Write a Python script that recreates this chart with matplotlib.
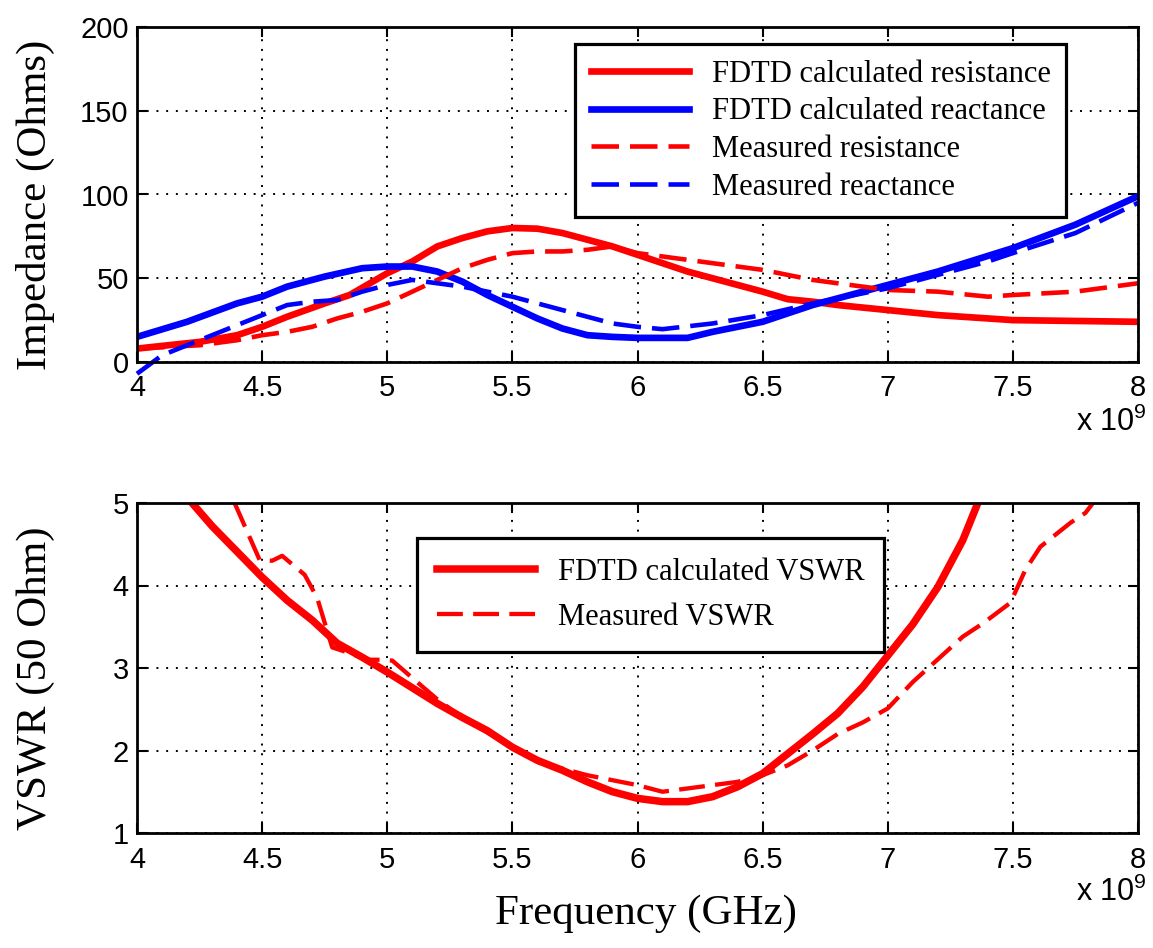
import matplotlib
matplotlib.use("Agg")
import matplotlib.pyplot as plt

plt.rcParams['font.family'] = ['Liberation Sans', 'DejaVu Sans']
plt.rcParams['mathtext.default'] = 'regular'

# ---------------- data (frequency in GHz, axis multiplier x 10^9) ----------------
f_res_fdtd = [4.0, 4.25, 4.4, 4.5, 4.6, 4.75, 4.85, 5.0, 5.1, 5.2, 5.3, 5.4, 5.5, 5.6,
              5.7, 5.8, 5.9, 6.0, 6.2, 6.4, 6.5, 6.6, 6.7, 6.8, 7.0, 7.2, 7.5, 8.0]
res_fdtd = [8, 12, 16, 21, 27, 35, 40, 53, 60, 69, 74, 78, 80, 79.6,
            77, 73, 69, 64, 54, 46, 42, 37.5, 36, 34, 31, 28, 25, 24]

f_reac_fdtd = [4.0, 4.2, 4.4, 4.5, 4.6, 4.75, 4.9, 5.0, 5.1, 5.2, 5.3, 5.4, 5.5, 5.6,
               5.7, 5.8, 5.9, 6.0, 6.2, 6.3, 6.5, 6.7, 6.9, 7.0, 7.2, 7.5, 7.75, 8.0]
reac_fdtd = [15, 24, 35, 39, 45, 51, 56, 57, 57, 54, 48, 40, 33, 26,
             20, 16, 15, 14.4, 14.4, 18, 24, 34, 42, 46, 54, 68, 82, 99]

f_res_meas = [4.0, 4.25, 4.4, 4.5, 4.6, 4.7, 4.8, 4.9, 5.0, 5.1, 5.2, 5.3, 5.4, 5.5, 5.6,
              5.7, 5.8, 5.9, 6.0, 6.1, 6.2, 6.5, 6.7, 6.9, 7.0, 7.2, 7.4, 7.5, 7.75, 8.0]
res_meas = [8, 10, 13, 16, 18, 21, 26, 30, 35, 42, 49, 56, 61, 65, 66,
            66, 67, 69, 65, 63, 61, 55, 49, 45, 43, 42, 39, 40, 42, 47]

f_reac_meas = [4.0, 4.1, 4.2, 4.3, 4.4, 4.5, 4.6, 4.7, 4.8, 4.9, 5.0, 5.1, 5.2, 5.3, 5.4,
               5.5, 5.6, 5.7, 5.8, 5.9, 6.0, 6.1, 6.3, 6.5, 6.7, 6.9, 7.0, 7.2, 7.4, 7.5,
               7.75, 8.0]
reac_meas = [-7, 4, 10, 16, 22, 28, 34, 36, 37, 42, 46, 49, 47, 45, 42,
             39, 35, 31, 27, 23, 21, 19.6, 23, 28, 35, 41, 44, 52, 60, 65,
             77, 95]

f_vswr_fdtd = [4.22, 4.3, 4.4, 4.5, 4.6, 4.7, 4.8, 4.9, 5.0, 5.1, 5.2, 5.3, 5.4, 5.5,
               5.6, 5.7, 5.8, 5.9, 6.0, 6.1, 6.2, 6.3, 6.4, 6.5, 6.6, 6.7, 6.8, 6.9,
               7.0, 7.1, 7.2, 7.3, 7.36]
vswr_fdtd = [5.0, 4.72, 4.41, 4.10, 3.82, 3.58, 3.30, 3.13, 2.95, 2.76, 2.57, 2.40, 2.24, 2.04,
             1.88, 1.76, 1.62, 1.50, 1.42, 1.38, 1.38, 1.44, 1.56, 1.72, 1.96, 2.20, 2.45, 2.77,
             3.15, 3.53, 3.98, 4.55, 5.0]

f_vswr_meas = [4.39, 4.49, 4.54, 4.58, 4.67, 4.72, 4.76, 4.78, 4.85, 4.92, 4.97, 5.02, 5.1,
               5.2, 5.3, 5.5, 5.6, 5.7, 5.8, 5.9, 6.0, 6.1, 6.2, 6.3, 6.4, 6.5, 6.6, 6.7,
               6.8, 6.9, 7.0, 7.1, 7.18, 7.3, 7.38, 7.49, 7.55, 7.61, 7.73, 7.79, 7.82]
vswr_meas = [5.0, 4.31, 4.30, 4.36, 4.13, 3.85, 3.45, 3.25, 3.18, 3.10, 3.10, 3.09, 2.88,
             2.62, 2.40, 2.04, 1.86, 1.78, 1.70, 1.64, 1.58, 1.50, 1.54, 1.58, 1.62, 1.70, 1.82, 2.00,
             2.20, 2.34, 2.51, 2.83, 3.05, 3.38, 3.54, 3.79, 4.19, 4.47, 4.76, 4.88, 5.0]

x_ticks = [4, 4.5, 5, 5.5, 6, 6.5, 7, 7.5, 8]
x_ticklabels = ['4', '4.5', '5', '5.5', '6', '6.5', '7', '7.5', '8']
imp_ticks = [0, 50, 100, 150, 200]
vswr_ticks = [1, 2, 3, 4, 5]

top_labels = ['FDTD calculated resistance', 'FDTD calculated reactance',
              'Measured resistance', 'Measured reactance']
bot_labels = ['FDTD calculated VSWR', 'Measured VSWR']

# ---------------- figure ----------------
W, H = 1153, 948
fig = plt.figure(figsize=(W / 100, H / 100), dpi=100)

def ax_rect(x0, y0, x1, y1):
    return [x0 / W, 1 - y1 / H, (x1 - x0) / W, (y1 - y0) / H]

ax1 = fig.add_axes(ax_rect(137, 27, 1138, 362))
ax2 = fig.add_axes(ax_rect(137, 503, 1138, 833))

RED = '#ff0000'
BLUE = '#0000ff'
serif = ['Liberation Serif', 'DejaVu Serif']

l1, = ax1.plot(f_res_fdtd, res_fdtd, color=RED, lw=4.8, solid_joinstyle='round')
l2, = ax1.plot(f_reac_fdtd, reac_fdtd, color=BLUE, lw=4.8, solid_joinstyle='round')
l3, = ax1.plot(f_res_meas, res_meas, color=RED, lw=3.3, dashes=(6, 2.4))
l4, = ax1.plot(f_reac_meas, reac_meas, color=BLUE, lw=3.3, dashes=(6, 2.4), clip_on=False)

m1, = ax2.plot(f_vswr_fdtd, vswr_fdtd, color=RED, lw=5.4, solid_joinstyle='round')
m2, = ax2.plot(f_vswr_meas, vswr_meas, color=RED, lw=3.1, dashes=(6, 2.4))

for ax, yt, ylim in ((ax1, imp_ticks, (0, 200)), (ax2, vswr_ticks, (1, 5))):
    ax.set_xlim(4, 8)
    ax.set_ylim(*ylim)
    ax.set_xticks(x_ticks)
    ax.set_xticklabels(x_ticklabels)
    ax.set_yticks(yt)
    ax.tick_params(direction='in', length=7, width=1.5, top=True, right=True,
                   labelsize=21, colors='black')
    ax.tick_params(axis='x', pad=9)
    ax.tick_params(axis='y', pad=6)
    ax.grid(True, color='black', linestyle=(0, (1, 4)), linewidth=1.4)
    for s in ax.spines.values():
        s.set_linewidth(2.0)
        s.set_color('black')
    ax.text(1.009, -0.205, r'x 10$^{9}$', transform=ax.transAxes, ha='right',
            va='baseline', fontsize=22)

ax1.set_ylabel('Impedance (Ohms)', family=serif, fontsize=31)
ax1.yaxis.set_label_coords(-0.082, 0.47)
ax2.set_ylabel('VSWR (50 Ohm)', family=serif, fontsize=31)
ax2.yaxis.set_label_coords(-0.082, 0.47)
ax2.set_xlabel('Frequency (GHz)', family=serif, fontsize=31)
ax2.xaxis.set_label_coords(0.508, -0.185)

leg1 = ax1.legend([l1, l2, l3, l4], top_labels, loc='upper left',
                  bbox_to_anchor=(575 / W, 1 - 44 / H), bbox_transform=fig.transFigure,
                  borderaxespad=0, prop={'family': serif, 'size': 22},
                  handlelength=3.2, handletextpad=0.75, borderpad=0.52, labelspacing=0.28,
                  fancybox=False, framealpha=1, edgecolor='black')
leg1.get_frame().set_linewidth(2.3)

leg2 = ax2.legend([m1, m2], bot_labels, loc='upper left',
                  bbox_to_anchor=(417 / W, 1 - 538 / H), bbox_transform=fig.transFigure,
                  borderaxespad=0, prop={'family': serif, 'size': 22},
                  handlelength=3.2, handletextpad=0.75, borderpad=0.65, labelspacing=0.53,
                  fancybox=False, framealpha=1, edgecolor='black')
leg2.get_frame().set_linewidth(2.3)

fig.savefig('out.png', dpi=100)
